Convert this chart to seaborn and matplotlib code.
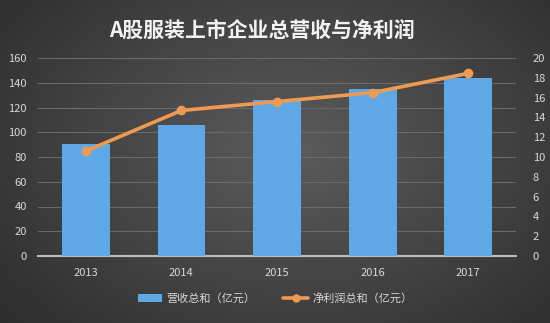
import numpy as np
import pandas as pd
import matplotlib
matplotlib.use("Agg")
import matplotlib.pyplot as plt
import seaborn as sns
from matplotlib.patches import Patch
from matplotlib.lines import Line2D

years = ["2013", "2014", "2015", "2016", "2017"]
revenue = [90.5, 106, 126, 135, 143.5]
profit = [10.6, 14.7, 15.6, 16.5, 18.45]
left_ticks = [0, 20, 40, 60, 80, 100, 120, 140, 160]
right_ticks = [0, 2, 4, 6, 8, 10, 12, 14, 16, 18, 20]
title = "A股服装上市企业总营收与净利润"
bar_label = "营收总和（亿元）"
line_label = "净利润总和（亿元）"

sns.set_style("dark")
plt.rcParams["font.family"] = ["Noto Sans CJK SC", "DejaVu Sans"]

fig = plt.figure(figsize=(5.5, 3.23), dpi=100)

# background radial gradient
bg = fig.add_axes([0, 0, 1, 1], zorder=-10)
yy, xx = np.mgrid[0:323, 0:550]
r = np.sqrt(((xx - 290) / 330.0) ** 2 + ((yy - 150) / 230.0) ** 2)
val = np.clip(0.36 - 0.16 * r, 0.17, 0.40)
bg.imshow(np.dstack([val, val, val]), aspect="auto", extent=[0, 1, 0, 1])
bg.axis("off")

df = pd.DataFrame({"year": years, "revenue": revenue, "profit": profit})

ax = fig.add_axes([38 / 550, 67 / 323, 478 / 550, 198 / 323])
ax.set_facecolor("none")
sns.barplot(data=df, x="year", y="revenue", color="#5fa8e6", width=0.5,
            saturation=1, ax=ax, zorder=3, edgecolor="none", linewidth=0)
ax.set_ylim(0, 160)
ax.set_yticks(left_ticks)
ax.set_xlim(-0.5, 4.5)
ax.grid(axis="y", color="#6a6a6a", linewidth=0.8, zorder=0)
ax.grid(axis="x", visible=False)
ax.set_axisbelow(True)
for s in ["top", "left", "right"]:
    ax.spines[s].set_visible(False)
ax.spines["bottom"].set_color("#bdbdbd")
ax.spines["bottom"].set_linewidth(1.5)
ax.tick_params(axis="both", length=0, colors="#d8d8d8", labelsize=8)
ax.tick_params(axis="x", pad=9)
ax.tick_params(axis="y", pad=8)
ax.set_xlabel("")
ax.set_ylabel("")

ax2 = ax.twinx()
sns.pointplot(data=df, x="year", y="profit", color="#ee9a52", ax=ax2,
              markers="o", markersize=5, linewidth=2.6, zorder=5)
ax2.set_ylim(0, 20)
ax2.set_yticks(right_ticks)
ax2.set_xlim(-0.5, 4.5)
for s in ["top", "left", "right", "bottom"]:
    ax2.spines[s].set_visible(False)
ax2.tick_params(axis="y", length=0, colors="#d8d8d8", labelsize=8, pad=12)
ax2.set_ylabel("")
ax2.grid(False)

fig.text(0.477, 0.905, title, ha="center", va="center", fontsize=15,
         fontweight="bold", color="#f2f2f2")

handles = [Patch(facecolor="#5fa8e6", edgecolor="none"),
           Line2D([0], [0], color="#ee9a52", linewidth=2.6, marker="o", markersize=5)]
leg = fig.legend(handles, [bar_label, line_label], loc="center",
                 bbox_to_anchor=(0.5, 0.077), ncol=2, frameon=False,
                 fontsize=8, labelcolor="#d8d8d8", handlelength=2.2,
                 columnspacing=2.5, handletextpad=0.4)

fig.savefig("out.png", dpi=100)
